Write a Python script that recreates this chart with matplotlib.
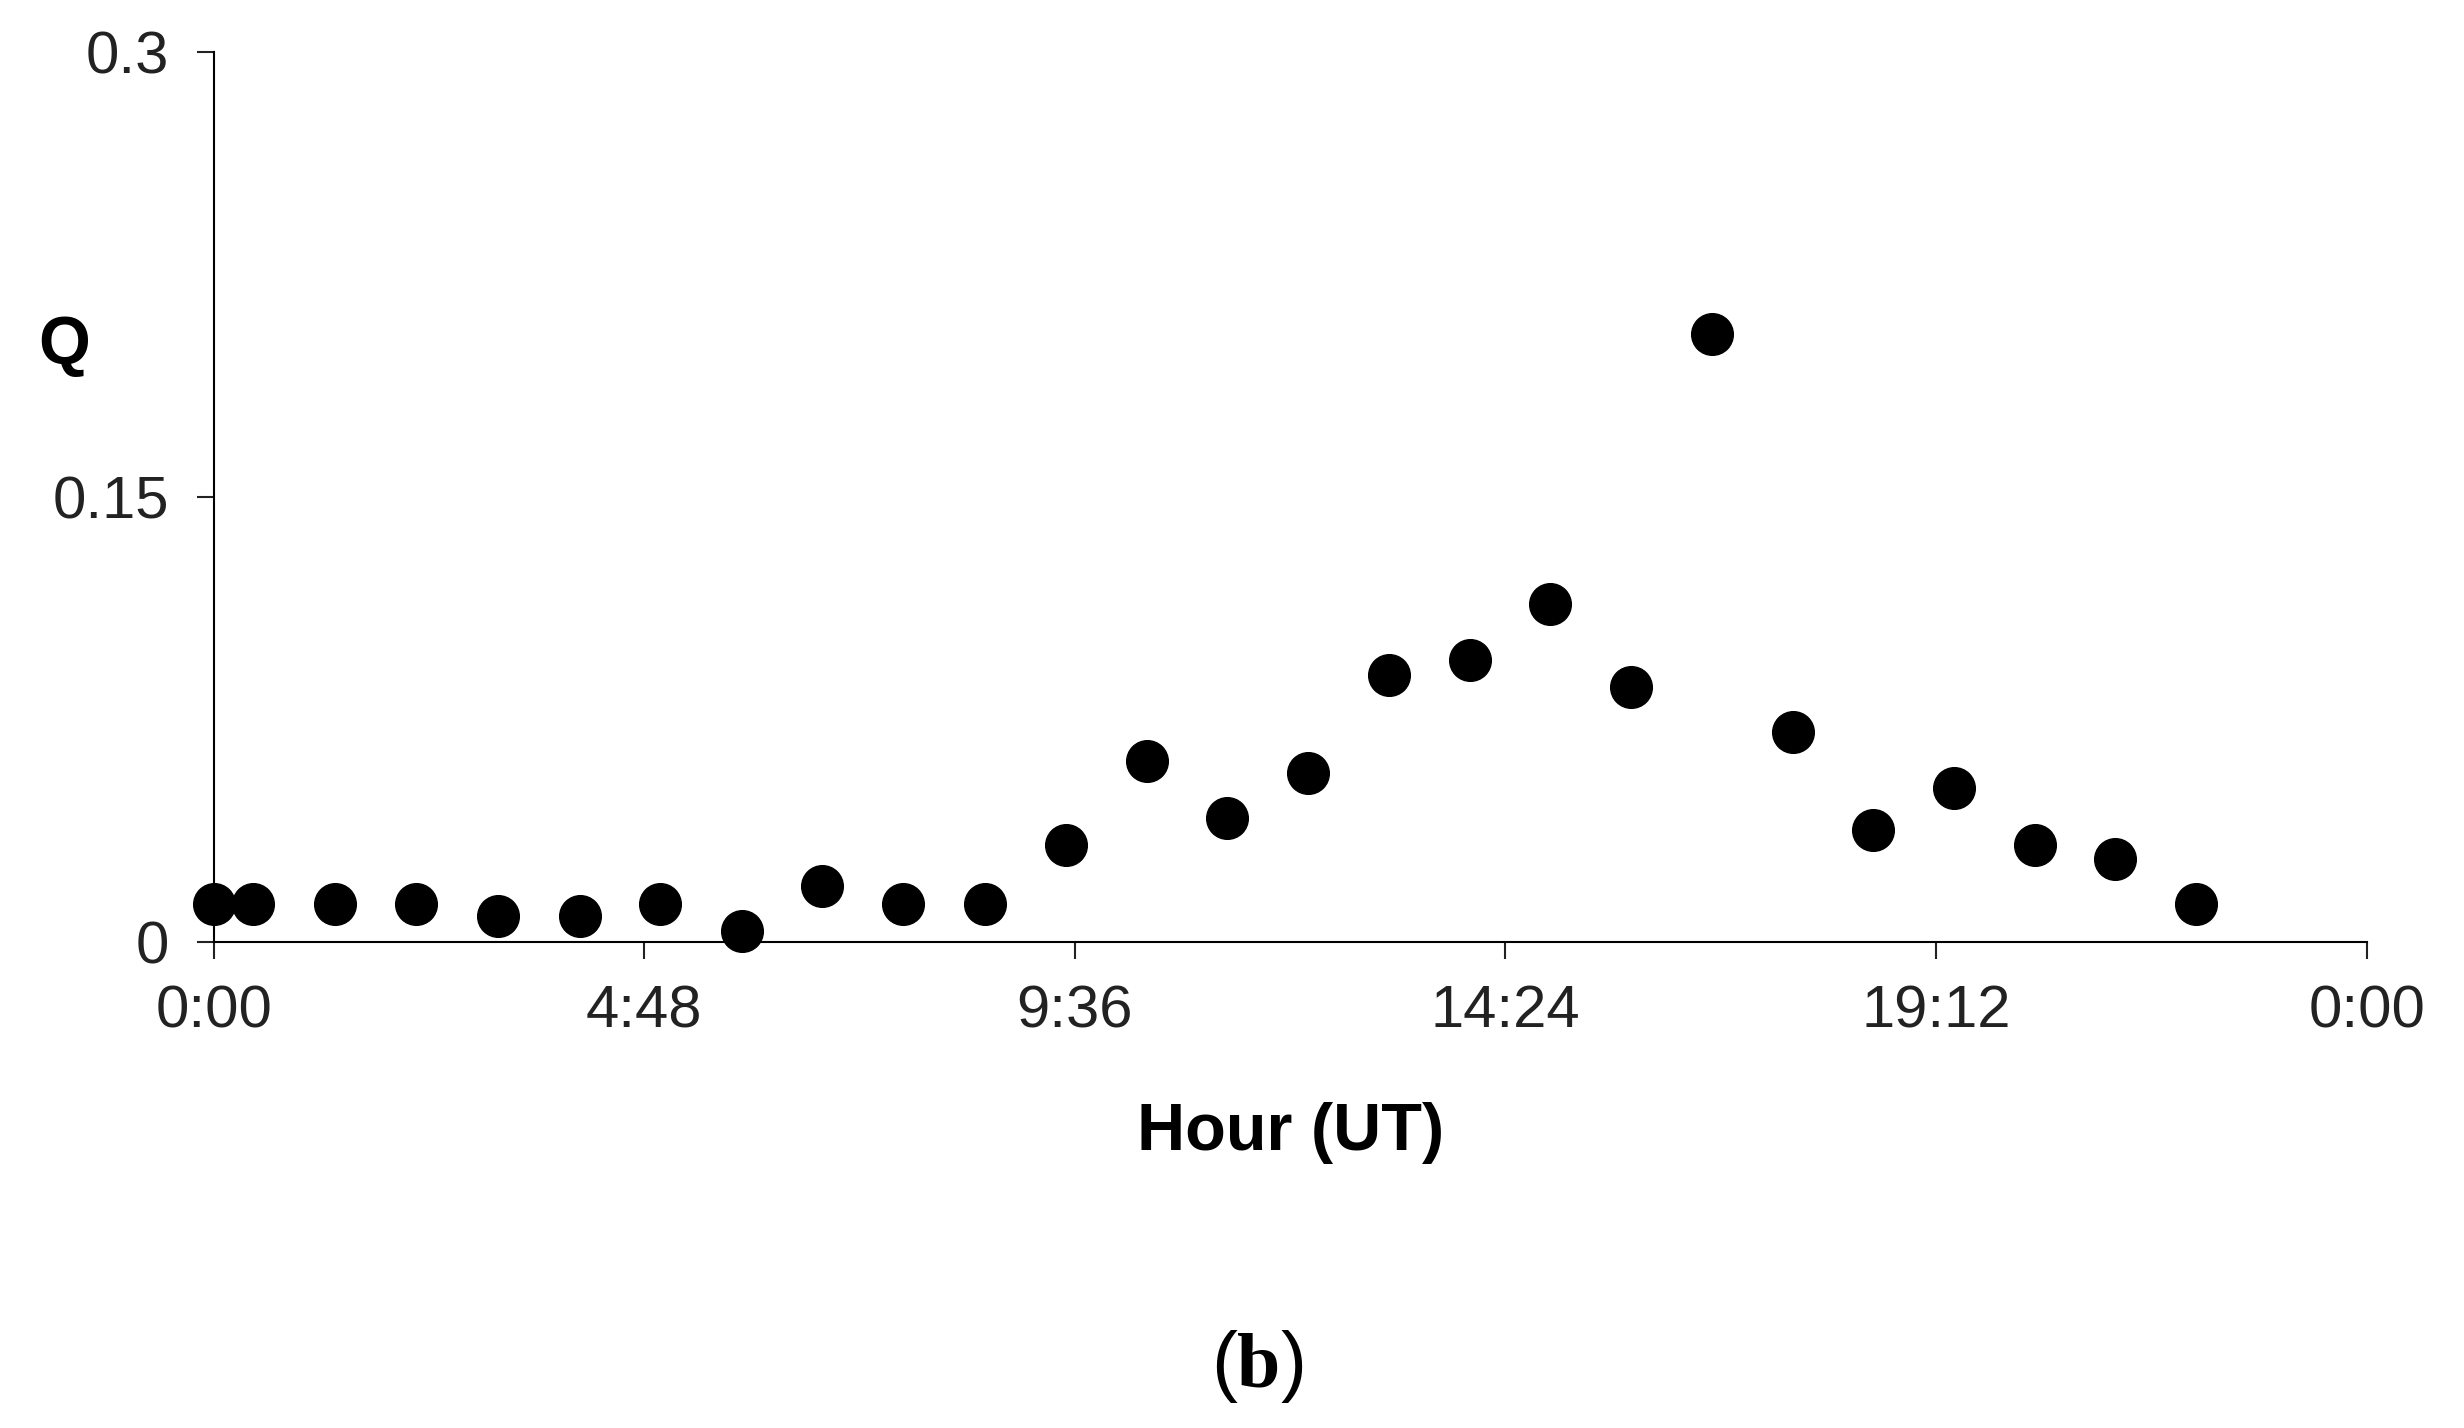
import matplotlib.pyplot as plt

plt.rcParams['font.family'] = ['Liberation Sans', 'DejaVu Sans']
plt.rcParams['mathtext.fontset'] = 'custom'
plt.rcParams['mathtext.rm'] = 'Liberation Serif'
plt.rcParams['mathtext.bf'] = 'Liberation Serif:bold'

# hour of day (UT) and Q values
hours = [0.0, 0.44, 1.35, 2.26, 3.17, 4.08, 4.98, 5.89, 6.78, 7.69, 8.6, 9.5, 10.4,
         11.3, 12.2, 13.1, 14.0, 14.9, 15.8, 16.7, 17.6, 18.5, 19.4, 20.3, 21.2, 22.1]
q_vals = [0.013, 0.013, 0.013, 0.013, 0.009, 0.009, 0.013, 0.004, 0.019, 0.013, 0.013,
          0.033, 0.061, 0.042, 0.057, 0.090, 0.095, 0.114, 0.086, 0.205, 0.071, 0.038,
          0.052, 0.033, 0.028, 0.013]
x_ticks = [0, 4.8, 9.6, 14.4, 19.2, 24]
x_labels = ['0:00', '4:48', '9:36', '14:24', '19:12', '0:00']
y_ticks = [0, 0.15, 0.3]
y_labels = ['0', '0.15', '0.3']

fig = plt.figure(figsize=(24.64, 14.28), dpi=100)
ax = fig.add_axes([0.0867, 0.34, 0.8738, 0.6237])
ax.plot(hours, q_vals, 'o', color='black', markersize=30, clip_on=False, zorder=3)
ax.set_xlim(0, 24)
ax.set_ylim(0, 0.3)
ax.set_xticks(x_ticks)
ax.set_xticklabels(x_labels)
ax.set_yticks(y_ticks)
ax.set_yticklabels(y_labels)
for s in ['top', 'right']:
    ax.spines[s].set_visible(False)
for s in ['left', 'bottom']:
    ax.spines[s].set_color('black')
    ax.spines[s].set_linewidth(1.5)
ax.tick_params(direction='out', length=12, width=1.5, labelsize=43, colors='#222222', pad=18)
ax.tick_params(axis='y', pad=20)
ax.set_xlabel('Hour (UT)', fontsize=48, fontweight='bold', labelpad=45)
fig.text(0.026, 0.758, 'Q', fontsize=48, fontweight='bold', ha='center', va='center')
fig.text(0.51, 0.043, r'($\mathbf{b}$)', fontsize=56, ha='center', va='center')
fig.savefig('out.png', dpi=100, facecolor='white')
